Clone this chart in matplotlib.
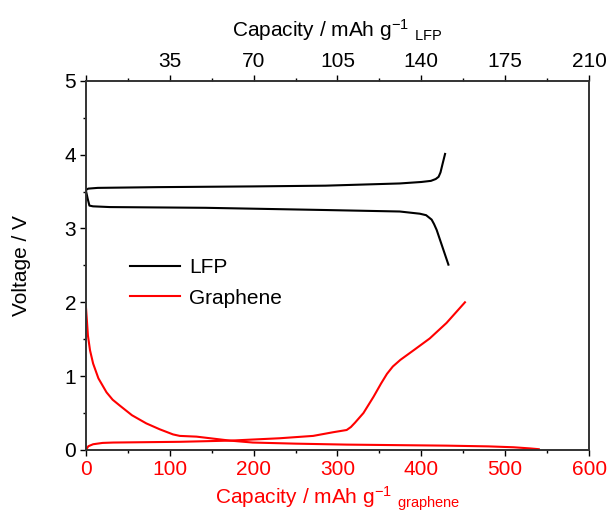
import numpy as np
import matplotlib
matplotlib.use('Agg')
import matplotlib.pyplot as plt
from matplotlib.ticker import MultipleLocator

plt.rcParams['font.family'] = ['Liberation Sans', 'DejaVu Sans']
plt.rcParams['mathtext.fontset'] = 'custom'
plt.rcParams['mathtext.rm'] = 'Liberation Sans'
plt.rcParams['mathtext.it'] = 'Liberation Sans'

# LFP (top axis, mAh/g LFP)
lfp_chg_cap = [0, 1, 5, 30, 70, 100, 131, 140, 144, 146, 147.2, 148, 148.9, 149.9]
lfp_chg_v   = [3.52, 3.54, 3.55, 3.56, 3.57, 3.58, 3.61, 3.63, 3.645, 3.67, 3.70, 3.76, 3.88, 4.01]
lfp_dis_cap = [0, 0.8, 1.5, 3, 10, 50, 100, 131, 139.4, 142, 144.3, 145.3, 146.4, 151.3]
lfp_dis_v   = [3.52, 3.40, 3.31, 3.30, 3.29, 3.28, 3.25, 3.23, 3.20, 3.18, 3.12, 3.06, 2.98, 2.51]

# Graphene (bottom axis, mAh/g graphene)
gr_dis_cap = [0, 1, 2.5, 5, 8.7, 15, 24.7, 32, 40.6, 55, 72, 88, 104, 112, 132, 172, 199, 250, 311, 370, 430, 480, 510, 530, 540]
gr_dis_v   = [1.96, 1.80, 1.55, 1.35, 1.17, 0.97, 0.78, 0.68, 0.60, 0.47, 0.36, 0.28, 0.21, 0.19, 0.18, 0.126, 0.10, 0.085, 0.072, 0.065, 0.058, 0.048, 0.036, 0.02, 0.01]
gr_chg_cap = [0, 3, 8.7, 20, 32.6, 112, 172, 231, 271, 295, 311, 316, 321, 331, 343, 352, 359, 366, 375, 392, 410, 430, 452]
gr_chg_v   = [0.0, 0.05, 0.077, 0.095, 0.10, 0.11, 0.126, 0.158, 0.19, 0.24, 0.27, 0.31, 0.37, 0.50, 0.72, 0.90, 1.03, 1.13, 1.22, 1.36, 1.51, 1.72, 2.0]

fig = plt.figure(figsize=(6.13, 5.25), dpi=100)
ax = fig.add_axes([0.140, 0.143, 0.821, 0.703])
ax2 = ax.twiny()

l2, = ax.plot(gr_dis_cap, gr_dis_v, color='red', lw=1.5, label='Graphene')
ax.plot(gr_chg_cap, gr_chg_v, color='red', lw=1.5)
l1, = ax2.plot(lfp_chg_cap, lfp_chg_v, color='black', lw=1.5, label='LFP')
ax2.plot(lfp_dis_cap, lfp_dis_v, color='black', lw=1.5)

ax.set_xlim(0, 600)
ax.set_ylim(0, 5)
ax2.set_xlim(0, 210)

ax.xaxis.set_major_locator(MultipleLocator(100))
ax.xaxis.set_minor_locator(MultipleLocator(50))
ax.yaxis.set_major_locator(MultipleLocator(1))
ax.yaxis.set_minor_locator(MultipleLocator(0.5))
ax2.set_xticks([0, 35, 70, 105, 140, 175, 210])
ax2.set_xticklabels(['', '35', '70', '105', '140', '175', '210'])
ax2.xaxis.set_minor_locator(MultipleLocator(17.5))

for a in (ax, ax2):
    a.tick_params(which='major', direction='out', length=4, width=1, labelsize=15, pad=3)
    a.tick_params(which='minor', direction='out', length=2.5, width=1)
    for s in a.spines.values():
        s.set_linewidth(1.2)
        s.set_color('#333333')
ax.tick_params(axis='x', which='both', labelcolor='red')
ax.tick_params(axis='y', which='both', right=False)

ax.set_xlabel(r'Capacity / mAh g$^{\mathregular{-1}}$ $_{\mathregular{graphene}}$', color='red', fontsize=15, labelpad=4)
ax.set_ylabel('Voltage / V', fontsize=15, labelpad=24)
ax2.set_xlabel(r'Capacity / mAh g$^{\mathregular{-1}}$ $_{\mathregular{LFP}}$', fontsize=15, labelpad=11)

ax2.legend(handles=[l1, l2], loc='upper left', bbox_to_anchor=(0.05, 0.57),
           frameon=False, fontsize=15, handlelength=2.4, handletextpad=0.45,
           labelspacing=0.55)

fig.savefig('out.png', dpi=100)
